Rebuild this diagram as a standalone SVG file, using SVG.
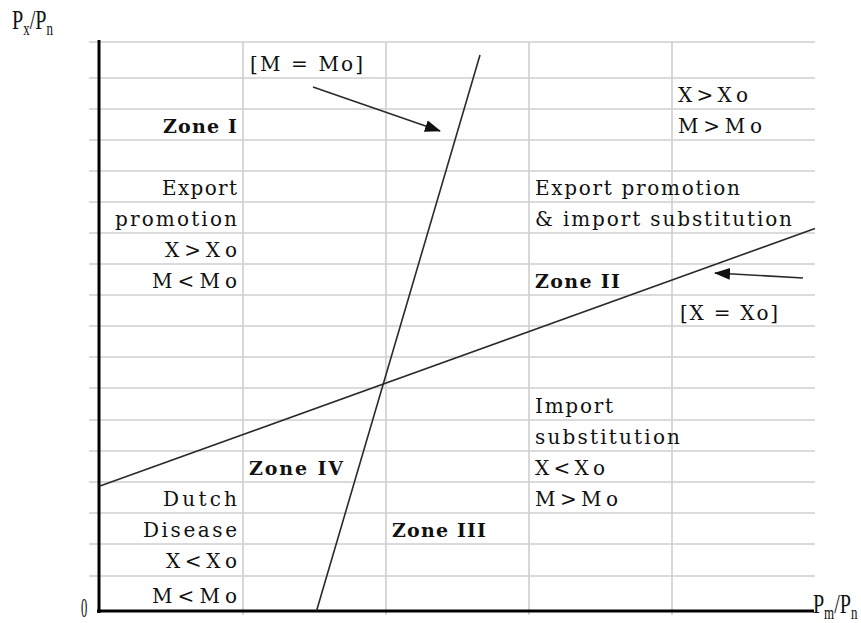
<svg xmlns="http://www.w3.org/2000/svg" width="861" height="623" viewBox="0 0 861 623">
<style>
.grid{stroke:#cfcfcf;stroke-width:1.6;fill:none}
.axis{stroke:#000;stroke-width:3;fill:none}
.curve{stroke:#2a2a2a;stroke-width:1.6;fill:none}
.arrow{stroke:#2a2a2a;stroke-width:1.6;fill:none;marker-end:url(#ah)}
.t{font-family:"DejaVu Serif","Liberation Serif",serif;font-size:20px;fill:#111}
.b{font-family:"DejaVu Serif","Liberation Serif",serif;font-size:19px;font-weight:bold;fill:#111}
.lab{font-family:"Liberation Serif","Times New Roman",serif;font-size:28px;fill:#111}
</style>
<defs>
<marker id="ah" viewBox="0 0 16 12" refX="15" refY="6" markerWidth="16" markerHeight="12" markerUnits="userSpaceOnUse" orient="auto">
<path d="M0,0 L16,6 L0,12 Z" fill="#111"/>
</marker>
</defs>
<rect width="861" height="623" fill="#fff"/>
<g id="grid">
<path class="grid" d="M89,42H815 M89,78H815 M89,109H815 M89,140H815 M89,171H815 M89,202H815 M89,233H815 M89,264H815 M89,295H815 M89,326H815 M89,357H815 M89,388H815 M89,420H815 M89,451H815 M89,482H815 M89,513H815 M89,544H815 M89,576H815"/>
<path class="grid" d="M243,42V615 M386,42V615 M529,42V615 M672,42V615"/>
</g>
<g id="axes">
<path class="axis" d="M99,40V613 M97,611H814"/>
<text class="lab" transform="scale(0.72,1)" x="16.7" y="29">P<tspan font-size="18" dy="6">x</tspan><tspan dy="-6">/P</tspan><tspan font-size="18" dy="6">n</tspan></text>
<text class="lab" transform="scale(0.72,1)" x="1129" y="613">P<tspan font-size="18" dy="6">m</tspan><tspan dy="-6">/P</tspan><tspan font-size="18" dy="6">n</tspan></text>
<text class="lab" transform="scale(0.45,1)" x="180" y="617" font-size="34">0</text>
</g>
<g id="lines">
<path id="line-M" class="curve" d="M316.5,611 L480,55"/>
<path id="line-X" class="curve" d="M100,486 L815,228.5"/>
</g>
<g id="connectors">
<path class="arrow" d="M313,87 L440,131"/>
<path class="arrow" d="M803,278 L715,273"/>
</g>
<g id="zone1">
<text class="t" x="250" y="71" textLength="113" lengthAdjust="spacing">[M = Mo]</text>
<text class="b" x="163" y="133" textLength="74" lengthAdjust="spacing">Zone I</text>
<text class="t" x="162" y="195" textLength="75" lengthAdjust="spacing">Export</text>
<text class="t" x="115" y="226" textLength="122" lengthAdjust="spacing">promotion</text>
<text class="t" x="165" y="257" textLength="72" lengthAdjust="spacing">X&gt;Xo</text>
<text class="t" x="152" y="288" textLength="85" lengthAdjust="spacing">M&lt;Mo</text>
</g>
<g id="zone2">
<text class="t" x="678" y="102" textLength="70" lengthAdjust="spacing">X&gt;Xo</text>
<text class="t" x="678" y="133" textLength="84" lengthAdjust="spacing">M&gt;Mo</text>
<text class="t" x="535" y="195" textLength="205" lengthAdjust="spacing">Export promotion</text>
<text class="t" x="535" y="226" textLength="257" lengthAdjust="spacing">&amp; import substitution</text>
<text class="b" x="535" y="288" textLength="85" lengthAdjust="spacing">Zone II</text>
<text class="t" x="680" y="320" textLength="98" lengthAdjust="spacing">[X = Xo]</text>
</g>
<g id="zone3">
<text class="t" x="535" y="413" textLength="78" lengthAdjust="spacing">Import</text>
<text class="t" x="535" y="444" textLength="145" lengthAdjust="spacing">substitution</text>
<text class="t" x="535" y="475" textLength="70" lengthAdjust="spacing">X&lt;Xo</text>
<text class="t" x="535" y="506" textLength="83" lengthAdjust="spacing">M&gt;Mo</text>
<text class="b" x="392" y="537" textLength="94" lengthAdjust="spacing">Zone III</text>
</g>
<g id="zone4">
<text class="b" x="249" y="475" textLength="94" lengthAdjust="spacing">Zone IV</text>
<text class="t" x="163" y="506" textLength="74" lengthAdjust="spacing">Dutch</text>
<text class="t" x="143" y="537" textLength="94" lengthAdjust="spacing">Disease</text>
<text class="t" x="166" y="568" textLength="71" lengthAdjust="spacing">X&lt;Xo</text>
<text class="t" x="152" y="603" textLength="85" lengthAdjust="spacing">M&lt;Mo</text>
</g>
</svg>
